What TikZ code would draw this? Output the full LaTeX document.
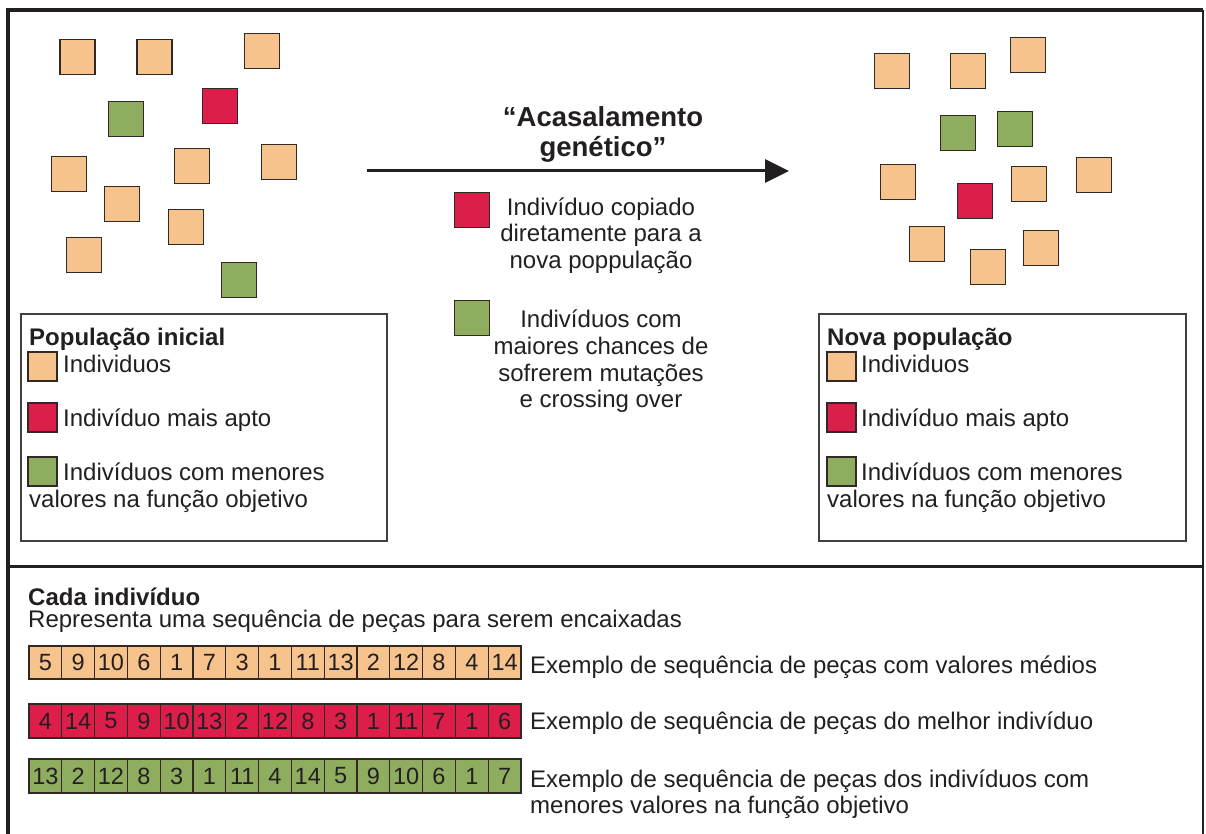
\documentclass[tikz,border=0pt]{standalone}
\usepackage{fontspec}
\setmainfont{Liberation Sans}
\usetikzlibrary{arrows.meta}
\definecolor{peach}{RGB}{246,195,141}
\definecolor{crim}{RGB}{220,30,74}
\definecolor{olive}{RGB}{143,173,95}
\definecolor{edgec}{RGB}{50,40,36}
\definecolor{ink}{RGB}{35,31,32}
\begin{document}
\begin{tikzpicture}[x=1pt,y=-1pt,
  ind/.style={draw=edgec, line width=1.8pt, minimum size=35pt, inner sep=0pt},
  po/.style={ind, fill=peach},
  pr/.style={ind, fill=crim},
  pg/.style={ind, fill=olive},
  leg/.style={draw=edgec, line width=1.5pt, minimum size=29pt, inner sep=0pt},
  legbox/.style={draw=black!75, line width=1.3pt, minimum height=227pt, inner sep=0pt},
  cell/.style={draw=edgec, line width=1.2pt, minimum width=32.8pt, inner sep=0pt, text=ink, font=\fontsize{23.5}{23.5}\selectfont},
  txt/.style={inner sep=0pt, text=ink, font=\fontsize{24}{27}\selectfont},
  btxt/.style={inner sep=0pt, text=ink, font=\bfseries\fontsize{24}{27}\selectfont},
  ttl/.style={inner sep=0pt, text=ink, font=\bfseries\fontsize{27.5}{30}\selectfont},
  frame/.style={draw=ink, line width=4pt}
]
\useasboundingbox (0,0) rectangle (1206,834);
\fill[white] (0,0) rectangle (1206,834);

% outer frame and divider
\coordinate (fbl) at (8,836);
\coordinate (ftl) at (8,10);
\coordinate (ftr) at (1203,10);
\coordinate (fbr) at (1203,836);
\coordinate (dl) at (8,566);
\coordinate (dr) at (1203,566);
\draw[frame] (fbl) -- (ftl) -- (ftr);
\draw[draw=ink, line width=2pt] (ftr) -- (fbr);
\draw[draw=ink, line width=3pt] (dl) -- (dr);

% initial population
\node[po] (i1) at (77.5,57) {};
\node[po] (i2) at (154.5,57) {};
\node[po] (i3) at (262,51) {};
\node[pg] (i4) at (126,119) {};
\node[pr] (i5) at (220,106) {};
\node[po] (i6) at (69,174) {};
\node[po] (i7) at (192,166) {};
\node[po] (i8) at (279,162) {};
\node[po] (i9) at (122,204) {};
\node[po] (i10) at (186,227) {};
\node[po] (i11) at (84,255) {};
\node[pg] (i12) at (239,280) {};

% new population
\node[po] (n1) at (892,71) {};
\node[po] (n2) at (968,71) {};
\node[po] (n3) at (1028,55) {};
\node[pg] (n4) at (958,133) {};
\node[pg] (n5) at (1015,129) {};
\node[po] (n6) at (898,182) {};
\node[pr] (n7) at (975,201) {};
\node[po] (n8) at (1029,184) {};
\node[po] (n9) at (1094,175) {};
\node[po] (n10) at (927,244) {};
\node[po] (n11) at (988,267) {};
\node[po] (n12) at (1041,248) {};

% arrow and title
\coordinate (as) at (367,171);
\coordinate (ae) at (789,171);
\draw[draw=ink, line width=3pt, -{Triangle[length=24pt,width=23pt]}] (as) -- (ae);
\node[ttl, anchor=base] (t1) at (603,127) {“Acasalamento};
\node[ttl, anchor=base] (t2) at (603,157) {genético”};

% middle legend
\node[pr] (mr) at (472,210) {};
\node[txt, anchor=base] (m1) at (601,215) {Indivíduo copiado};
\node[txt, anchor=base] (m2) at (601,242) {diretamente para a};
\node[txt, anchor=base] (m3) at (601,268) {nova poppulação};
\node[pg] (mg) at (472,318) {};
\node[txt, anchor=base] (m4) at (601,327) {Indivíduos com};
\node[txt, anchor=base] (m5) at (601,354) {maiores chances de};
\node[txt, anchor=base] (m6) at (601,381) {sofrerem mutações};
\node[txt, anchor=base] (m7) at (601,407) {e crossing over};

% left legend box
\node[legbox, minimum width=366pt] (lb) at (204,427.5) {};
\node[btxt, anchor=base west] (lh) at (29,345) {População inicial};
\node[leg, fill=peach] (lo) at (42.5,366.5) {};
\node[txt, anchor=base west] (lot) at (63,372) {Individuos};
\node[leg, fill=crim] (lr) at (42.5,417.5) {};
\node[txt, anchor=base west] (lrt) at (63,426) {Indivíduo mais apto};
\node[leg, fill=olive] (lg) at (42.5,471.5) {};
\node[txt, anchor=base west] (lgt) at (63,480) {Indivíduos com menores};
\node[txt, anchor=base west] (lgt2) at (29,507) {valores na função objetivo};

% right legend box
\node[legbox, minimum width=367pt] (rb) at (1002.5,427.5) {};
\node[btxt, anchor=base west] (rh) at (827,345) {Nova população};
\node[leg, fill=peach] (ro) at (841.5,366.5) {};
\node[txt, anchor=base west] (rot) at (861,372) {Individuos};
\node[leg, fill=crim] (rr) at (841.5,417.5) {};
\node[txt, anchor=base west] (rrt) at (861,426) {Indivíduo mais apto};
\node[leg, fill=olive] (rg) at (841.5,471.5) {};
\node[txt, anchor=base west] (rgt) at (861,480) {Indivíduos com menores};
\node[txt, anchor=base west] (rgt2) at (827,507) {valores na função objetivo};

% bottom section
\node[btxt, anchor=base west] (ch) at (28,605) {Cada indivíduo};
\node[txt, anchor=base west] (cr) at (28,627) {Representa uma sequência de peças para serem encaixadas};

\foreach \v [count=\i] in {5,9,10,6,1,7,3,1,11,13,2,12,8,4,14}
  \node[cell, fill=peach, minimum height=33pt] (a\i) at ({29+32.8*(\i-0.5)},662.5) {\v};
\foreach \v [count=\i] in {4,14,5,9,10,13,2,12,8,3,1,11,7,1,6}
  \node[cell, fill=crim, minimum height=34pt] (b\i) at ({29+32.8*(\i-0.5)},721) {\v};
\foreach \v [count=\i] in {13,2,12,8,3,1,11,4,14,5,9,10,6,1,7}
  \node[cell, fill=olive, minimum height=34pt] (c\i) at ({29+32.8*(\i-0.5)},776) {\v};

\node[txt, anchor=base west] (e1) at (530,673) {Exemplo de sequência de peças com valores médios};
\node[txt, anchor=base west] (e2) at (530,729) {Exemplo de sequência de peças do melhor indivíduo};
\node[txt, anchor=base west] (e3) at (530,787) {Exemplo de sequência de peças dos indivíduos com};
\node[txt, anchor=base west] (e4) at (530,813) {menores valores na função objetivo};
\end{tikzpicture}
\end{document}
